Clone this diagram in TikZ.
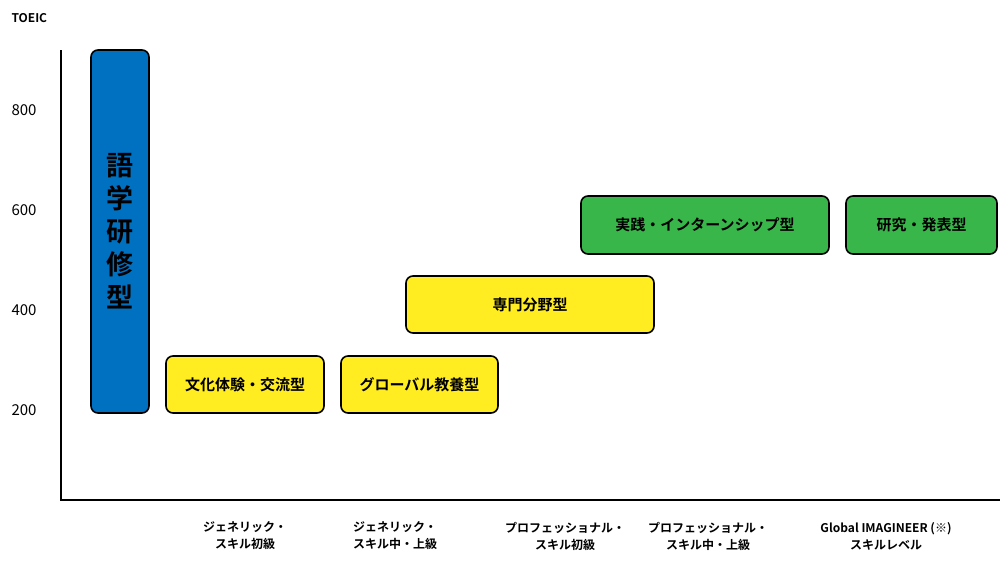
\documentclass[tikz,border=0pt]{standalone}
\usepackage{fontspec}
\setmainfont{Noto Sans CJK JP}[BoldFont={* Bold}]
\usetikzlibrary{positioning}
\definecolor{cblue}{RGB}{0,112,192}
\definecolor{cyellow}{RGB}{255,237,33}
\definecolor{cgreen}{RGB}{56,182,74}
\tikzset{
  typebox/.style={draw=black, line width=1.6pt, rounded corners=7pt, inner sep=0pt,
    font=\bfseries\fontsize{15}{15}\selectfont},
  ticklabel/.style={anchor=west, font=\fontsize{15}{15}\selectfont},
  levellabel/.style={align=center, font=\bfseries\fontsize{12}{17}\selectfont}
}
\begin{document}
\begin{tikzpicture}[x=1pt,y=-1pt]
\useasboundingbox (0,0) rectangle (1000,560);
% axes
\coordinate (top) at (61,50);
\coordinate (origin) at (61,500);
\coordinate (right) at (1000,500);
\draw[line width=1.5pt] (top) -- (origin) -- (right);
\node[anchor=west, font=\bfseries\fontsize{12}{12}\selectfont] (toeic) at (8,18) {TOEIC};
\node[ticklabel] (t800) at (8,110) {800};
\node[ticklabel] (t600) at (8,210) {600};
\node[ticklabel] (t400) at (8,310) {400};
\node[ticklabel] (t200) at (8,410) {200};
% boxes
\node[typebox, fill=cblue, minimum width=58pt, minimum height=363pt,
  align=center, font=\bfseries\fontsize{27}{33}\selectfont] (gogaku) at (120,231.5)
  {語\\学\\研\\修\\型};
\node[typebox, fill=cyellow, minimum width=158pt, minimum height=57pt] (bunka) at (245,384.5) {文化体験・交流型};
\node[typebox, fill=cyellow, minimum width=157pt, minimum height=57pt] (global) at (419.5,384.5) {グローバル教養型};
\node[typebox, fill=cyellow, minimum width=248pt, minimum height=57pt] (senmon) at (530,304.5) {専門分野型};
\node[typebox, fill=cgreen, minimum width=248pt, minimum height=58pt] (jissen) at (705,225) {実践・インターンシップ型};
\node[typebox, fill=cgreen, minimum width=151pt, minimum height=58pt] (kenkyu) at (921.5,225) {研究・発表型};
% level labels
\node[levellabel] (lv1) at (245,536) {ジェネリック・\\スキル初級};
\node[levellabel] (lv2) at (395,536) {ジェネリック・\\スキル中・上級};
\node[levellabel] (lv3) at (565,536) {プロフェッショナル・\\スキル初級};
\node[levellabel] (lv4) at (708,536) {プロフェッショナル・\\スキル中・上級};
\node[levellabel] (lv5) at (886,536) {Global IMAGINEER (※)\\スキルレベル};
\end{tikzpicture}
\end{document}
